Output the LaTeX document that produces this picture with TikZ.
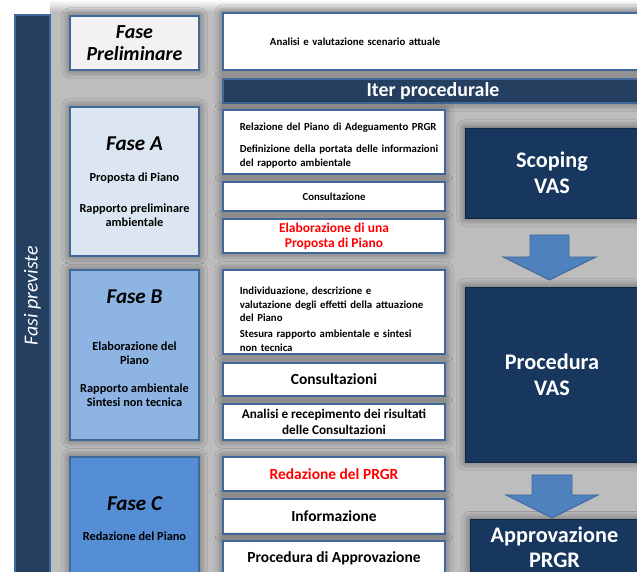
\documentclass[tikz,border=0pt]{standalone}
\usepackage{fontspec}
\setmainfont{Carlito}
\usetikzlibrary{shadows.blur}

\definecolor{navy}{HTML}{17375E}
\definecolor{barnavy}{HTML}{243F60}
\definecolor{boxline}{HTML}{41689A}
\definecolor{faseP}{HTML}{F2F2F2}
\definecolor{faseA}{HTML}{DCE6F2}
\definecolor{faseB}{HTML}{8EB4E3}
\definecolor{faseC}{HTML}{558ED5}
\definecolor{arrowblue}{HTML}{4F81BD}
\definecolor{backgray}{HTML}{BDBDBD}

\tikzset{
  glow/.style={blur shadow={shadow xshift=0pt, shadow yshift=0pt,
      shadow blur radius=7pt, shadow blur steps=8, shadow opacity=55}},
  phase/.style={draw=boxline, line width=1.2pt, inner sep=0pt, align=center,
      minimum width=3.87cm, glow},
  step box/.style={draw=boxline, line width=1.2pt, fill=white, inner sep=0pt,
      align=center, minimum width=6.66cm, glow},
  left text/.style={align=left, text width=6.4cm,
      font=\fontsize{9.2}{11.5}\selectfont\bfseries,
      execute at begin node={\leftskip=0.375cm\relax}},
  vas/.style={fill=navy, draw=navy!70!black, inner sep=0pt, align=center,
      text=white, font=\fontsize{19}{22}\selectfont\bfseries, glow},
  bigarrow/.style={fill=arrowblue, draw=boxline, line width=0.8pt},
  small/.style={font=\fontsize{9.2}{11.5}\selectfont\bfseries},
  mid/.style={font=\fontsize{10.5}{12}\selectfont\bfseries},
  big/.style={font=\fontsize{13.2}{15}\selectfont\bfseries},
}

\newcommand{\fasetitle}[1]{{\fontsize{18}{20}\selectfont\bfseries\itshape #1}}

\begin{document}
\begin{tikzpicture}[x=0.03cm,y=-0.03cm]
  \useasboundingbox (0,0) rectangle (637,572);
  \clip (0,0) rectangle (637,572);
  \fill[backgray] (50,12) rectangle (637,572);
  \shade[top color=white, bottom color=backgray] (50,0) rectangle (637,12);

  % barra laterale
  \node[fill=barnavy, draw=boxline, line width=1pt, rotate=90, inner sep=0pt,
        minimum width=16.86cm, minimum height=1.05cm, text=white,
        font=\fontsize{17}{19}\selectfont\itshape] (fasi) at (32.5,296) {Fasi previste};

  % fase preliminare
  \node[phase, fill=faseP, minimum height=1.62cm,
        font=\fontsize{17}{19}\selectfont\bfseries\itshape] (prelim) at (134.5,43) {Fase\\Preliminare};
  \node[step box, minimum width=13.2cm, minimum height=1.71cm, align=left,
        text width=10.38cm, inner xsep=1.41cm, small] (analisi) at (443,41.5)
        {Analisi e valutazione scenario attuale};
  \node[fill=barnavy, draw=boxline, line width=1pt, inner sep=0pt, minimum width=12.6cm,
        minimum height=0.72cm, text=white, font=\fontsize{17}{19}\selectfont\bfseries,
        glow] (iter) at (433,91) {Iter procedurale};

  % fase A
  \node[phase, fill=faseA, minimum height=4.47cm, mid] (faseA) at (134.5,181.5)
        {\fasetitle{Fase A}\\[15pt] Proposta di Piano\\[14pt] Rapporto preliminare\\ambientale};
  \node[step box, minimum height=1.92cm, left text] (relaz) at (334,142)
        {\rule{0pt}{12pt}Relazione del Piano di Adeguamento PRGR\\[8pt]
         Definizione della portata delle informazioni\\del rapporto ambientale};
  \node[step box, minimum height=0.87cm, small] (consA) at (334,196.5) {Consultazione};
  \node[step box, minimum height=1.02cm, font=\fontsize{11.5}{12.8}\selectfont\bfseries,
        text=red] (elab) at (334,236) {Elaborazione di una\\Proposta di Piano};
  \node[vas, minimum width=5.22cm, minimum height=2.7cm] (scoping) at (552,173) {Scoping\\VAS};

  % fase B
  \node[phase, fill=faseB, minimum height=5.1cm, mid] (faseB) at (134.5,355)
        {\fasetitle{Fase B}\\[28pt] Elaborazione del\\Piano\\[12pt] Rapporto ambientale\\Sintesi non tecnica\rule[-11pt]{0pt}{0pt}};
  \node[step box, minimum height=2.52cm, left text] (individ) at (334,312)
        {\rule{0pt}{19pt}Individuazione, descrizione e\\valutazione degli effetti della attuazione\\del Piano\\[2pt]
         Stesura rapporto ambientale e sintesi\\non tecnica};
  \node[step box, minimum height=0.99cm, big] (consB) at (334,379.5) {Consultazioni};
  \node[step box, minimum height=1.08cm, font=\fontsize{11.3}{13.7}\selectfont\bfseries] (recep) at (334,422)
        {Analisi e recepimento dei risultati\\delle Consultazioni};
  \node[vas, minimum width=5.22cm, minimum height=5.25cm] (procvas) at (552,374.5) {Procedura\\VAS};

  % fase C
  \node[phase, fill=faseC, minimum height=3.69cm, mid] (faseC) at (134.5,518.5)
        {\fasetitle{Fase C}\\[14pt] Redazione del Piano};
  \node[step box, minimum height=1.02cm, big, text=red] (redaz) at (334,474) {Redazione del PRGR};
  \node[step box, minimum height=1.05cm, big] (inform) at (334,516.5) {Informazione};
  \node[step box, minimum height=1.05cm, big] (procapp) at (334,558.5) {Procedura di Approvazione};
  \node[vas, minimum width=5.07cm, minimum height=1.65cm,
        font=\fontsize{19}{21}\selectfont\bfseries] (approv) at (554.5,547) {Approvazione\\PRGR};

  % frecce
  \coordinate (a1) at (549.5,235);
  \coordinate (a2) at (552,475);
  \draw[bigarrow] (a1) ++(-19.5,0) -- ++(39,0) -- ++(0,22) -- ++(27,0) -- (549.5,280)
        -- ++(-46.5,-23) -- ++(27,0) -- cycle;
  \draw[bigarrow] (a2) ++(-20,0) -- ++(40,0) -- ++(0,20) -- ++(26,0) -- (552,518)
        -- ++(-46,-23) -- ++(26,0) -- cycle;

\end{tikzpicture}
\end{document}
